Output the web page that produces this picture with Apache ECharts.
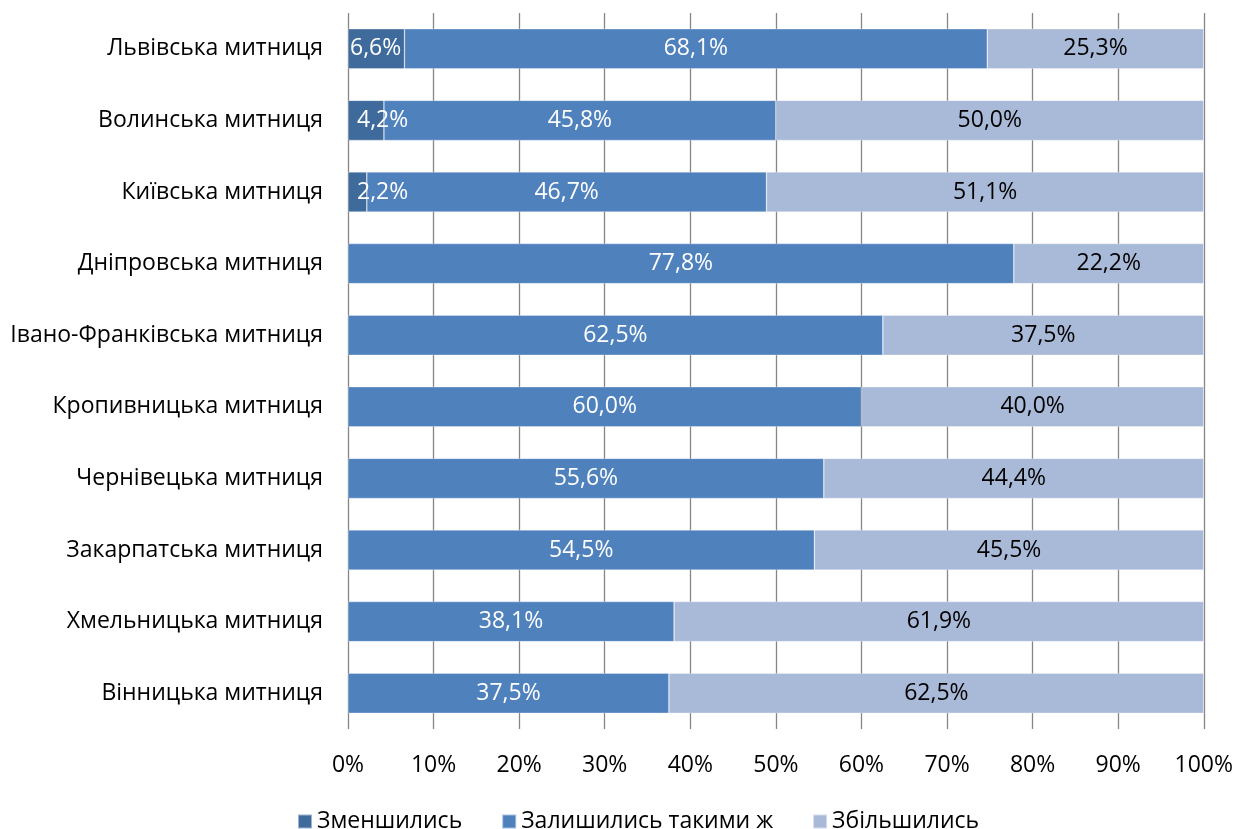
<!DOCTYPE html>
<html><head><meta charset="utf-8">
<script src="https://cdn.jsdelivr.net/npm/echarts@6/dist/echarts.min.js"></script>
<style>html,body{margin:0;padding:0;background:#fff}#c{width:1236px;height:829px}</style>
</head><body><div id="c"></div>
<script>
const categories = ['Львівська митниця','Волинська митниця','Київська митниця','Дніпровська митниця','Івано-Франківська митниця','Кропивницька митниця','Чернівецька митниця','Закарпатська митниця','Хмельницька митниця','Вінницька митниця'];
const decreased = [6.6, 4.2, 2.2, null, null, null, null, null, null, null];
const same = [68.1, 45.8, 46.7, 77.8, 62.5, 60.0, 55.6, 54.5, 38.1, 37.5];
const increased = [25.3, 50.0, 51.1, 22.2, 37.5, 40.0, 44.4, 45.5, 61.9, 62.5];
const seriesNames = ['Зменшились','Залишились такими ж','Збільшились'];
const FONT = '"Open Sans", sans-serif';
const FS = 23;
const fmt = p => p.value == null ? '' : p.value.toFixed(1).replace('.', ',') + '%';
function mk(name, data, color, labelColor, labelPos){
  return {name, type:'bar', stack:'s', data, barCategoryGap:'44%',
    itemStyle:{color, borderColor:'rgba(255,255,255,0.5)', borderWidth:0.6},
    label:Object.assign({show:true, position:'inside', formatter:fmt, color:labelColor, fontSize:FS, fontFamily:FONT}, labelPos||{}),
    labelLayout:{hideOverlap:false},
    emphasis:{disabled:true}};
}
const decData = decreased.map((v,i)=>({value:v, label:{position:'insideLeft', distance: v!=null && v>5 ? 2 : 9}}));
const chart = echarts.init(document.getElementById('c'));
chart.setOption({
  animation:false,
  grid:{left:348, right:32, top:13, height:716, containLabel:false},
  legend:{top:805, left:292, itemWidth:14, itemHeight:14, itemGap:39,
    textStyle:{fontSize:FS, fontFamily:FONT, color:'#000'}, icon:'rect',
    data:seriesNames},
  xAxis:{type:'value', min:0, max:100, interval:10,
    axisLabel:{formatter:'{value}%', fontSize:FS, fontFamily:FONT, color:'#000', margin:25},
    axisLine:{show:false}, axisTick:{show:false},
    splitLine:{show:true, lineStyle:{color:'#868686', width:1.3}}},
  yAxis:{type:'category', data:categories, inverse:true,
    axisLabel:{fontSize:FS, fontFamily:FONT, color:'#000', margin:25},
    axisLine:{show:false}, axisTick:{show:false}},
  series:[
    Object.assign(mk(seriesNames[0], decData, '#3F6A9C', '#fff'), {clip:false}),
    mk(seriesNames[1], same, '#4F81BD', '#fff'),
    mk(seriesNames[2], increased, '#A9B9D8', '#000')
  ]
});
</script></body></html>
